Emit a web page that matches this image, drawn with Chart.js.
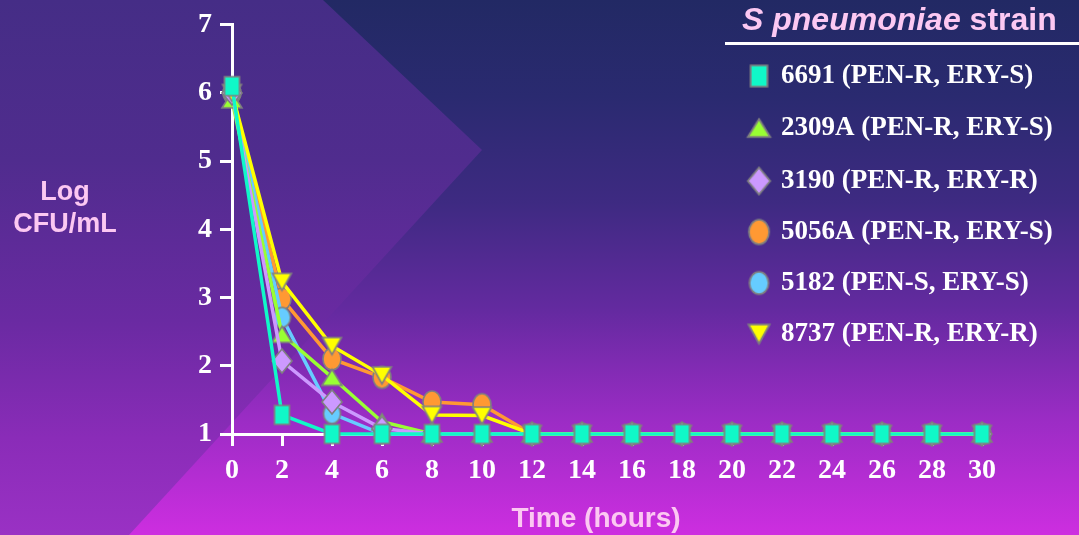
<!DOCTYPE html>
<html>
<head>
<meta charset="utf-8">
<script src="https://cdn.jsdelivr.net/npm/chart.js@4.4.1/dist/chart.umd.min.js"></script>
<style>
  html, body { margin:0; padding:0; width:1079px; height:535px; overflow:hidden; }
  body { position:relative; background: linear-gradient(to bottom, #222964 0%, #2a2a70 18%, #3e2a82 38%, #642aa0 58%, #9a2cc4 78%, #cd2ee0 100%); }
  #chev { position:absolute; left:0; top:0; width:1079px; height:535px;
    background: linear-gradient(to bottom, #452d86 0%, #502c8e 30%, #6a2aa2 60%, #8a2cb8 82%, #9a31c4 100%);
    clip-path: polygon(0 0, 323px 0, 482px 150px, 129px 535px, 0 535px); }
  canvas { position:absolute; left:0; top:0; }
</style>
</head>
<body>
<div id="chev"></div>
<canvas id="c" width="1079" height="535"></canvas>
<script>
// ---- data ----
const hours = [0, 2, 4, 6, 8, 10, 12, 14, 16, 18, 20, 22, 24, 26, 28, 30];
const xTicks = [0, 2, 4, 6, 8, 10, 12, 14, 16, 18, 20, 22, 24, 26, 28, 30];
const yTicks = [1, 2, 3, 4, 5, 6, 7];
const strainNames = ['6691 (PEN-R, ERY-S)', '2309A (PEN-R, ERY-S)', '3190 (PEN-R, ERY-R)',
                     '5056A (PEN-R, ERY-S)', '5182 (PEN-S, ERY-S)', '8737 (PEN-R, ERY-R)'];
const s6691  = [6.1, 1.28, 1.0, 1.0, 1.0, 1.0, 1.0, 1.0, 1.0, 1.0, 1.0, 1.0, 1.0, 1.0, 1.0, 1.0];
const s2309A = [5.9, 2.46, 1.83, 1.18, 1.0, 1.0, 1.0, 1.0, 1.0, 1.0, 1.0, 1.0, 1.0, 1.0, 1.0, 1.0];
const s3190  = [6.0, 2.07, 1.47, 1.08, 1.0, 1.0, 1.0, 1.0, 1.0, 1.0, 1.0, 1.0, 1.0, 1.0, 1.0, 1.0];
const s5056A = [6.0, 2.98, 2.10, 1.83, 1.47, 1.43, 1.0, 1.0, 1.0, 1.0, 1.0, 1.0, 1.0, 1.0, 1.0, 1.0];
const s5182  = [6.0, 2.71, 1.30, 1.0, 1.0, 1.0, 1.0, 1.0, 1.0, 1.0, 1.0, 1.0, 1.0, 1.0, 1.0, 1.0];
const s8737  = [6.0, 3.23, 2.29, 1.86, 1.28, 1.27, 1.0, 1.0, 1.0, 1.0, 1.0, 1.0, 1.0, 1.0, 1.0, 1.0];
const legendTitle = ['S pneumoniae', ' strain'];
const yTitle = ['Log', 'CFU/mL'];
const xTitle = 'Time (hours)';

// ---- marker images ----
function makeMarker(shape, fill, w, h) {
  const pad = 3;
  const cv = document.createElement('canvas');
  cv.width = w + pad * 2; cv.height = h + pad * 2;
  const g = cv.getContext('2d');
  const cx = cv.width / 2, cy = cv.height / 2;
  g.beginPath();
  if (shape === 'rect') g.rect(pad, pad, w, h);
  else if (shape === 'up') { g.moveTo(cx, pad); g.lineTo(pad + w, pad + h); g.lineTo(pad, pad + h); g.closePath(); }
  else if (shape === 'down') { g.moveTo(pad, pad); g.lineTo(pad + w, pad); g.lineTo(cx, pad + h); g.closePath(); }
  else if (shape === 'diamond') { g.moveTo(cx, pad); g.lineTo(pad + w, cy); g.lineTo(cx, pad + h); g.lineTo(pad, cy); g.closePath(); }
  else if (shape === 'ellipse') { g.ellipse(cx, cy, w / 2, h / 2, 0, 0, Math.PI * 2); }
  g.fillStyle = fill; g.fill();
  g.lineWidth = 1.6; g.strokeStyle = '#7f7f80'; g.stroke();
  return cv;
}
const colors = ['#10f8c8', '#99ff33', '#cc99ff', '#ff9933', '#66ccff', '#ffff00'];
const markers = [
  makeMarker('rect', colors[0], 15, 19),
  makeMarker('up', colors[1], 20, 16),
  makeMarker('diamond', colors[2], 20, 24),
  makeMarker('ellipse', colors[3], 18, 22),
  makeMarker('ellipse', colors[4], 17, 20),
  makeMarker('down', colors[5], 19, 17)
];
const series = [s6691, s2309A, s3190, s5056A, s5182, s8737];
const drawOrder = [0, 3, 2, 5, 4, 1];

const datasets = series.map((vals, i) => ({
  label: strainNames[i],
  data: hours.map((h, k) => ({x: h, y: vals[k]})),
  borderColor: colors[i],
  backgroundColor: colors[i],
  borderWidth: 3.5,
  pointStyle: markers[i],
  pointRadius: 12,
  pointHoverRadius: 12,
  tension: 0,
  clip: false,
  order: drawOrder[i]
}));

const SANS = "'Liberation Sans', Arial, sans-serif";
const SERIF = "'Liberation Serif', 'Times New Roman', serif";
const PINK = '#fcc8f2';

const deco = {
  id: 'deco',
  afterDraw(chart) {
    const ctx = chart.ctx;
    ctx.save();
    // y axis label
    ctx.fillStyle = PINK;
    ctx.font = 'bold 27px ' + SANS;
    ctx.textAlign = 'center'; ctx.textBaseline = 'middle';
    ctx.fillText(yTitle[0], 65, 193);
    ctx.fillText(yTitle[1], 65, 225);
    // x axis title
    ctx.font = 'bold 28px ' + SANS;
    ctx.fillText(xTitle, 596, 519);
    // legend title
    ctx.textAlign = 'left'; ctx.textBaseline = 'alphabetic';
    ctx.font = 'italic bold 32px ' + SANS;
    ctx.fillText(legendTitle[0], 742, 30);
    const w1 = ctx.measureText(legendTitle[0]).width;
    ctx.font = 'bold 32px ' + SANS;
    ctx.fillText(legendTitle[1], 742 + w1, 30);
    // underline
    ctx.fillStyle = '#ffffff';
    ctx.fillRect(725, 42, 354, 3);
    // legend items
    const rows = [75, 127, 180, 231, 282, 333];
    ctx.font = 'bold 27px ' + SERIF;
    ctx.textBaseline = 'middle';
    chart.data.datasets.forEach((ds, i) => {
      const img = ds.pointStyle;
      const sc = 1.12;
      const w = img.width * sc, h = img.height * sc;
      ctx.drawImage(img, 759 - w / 2, rows[i] + 1 - h / 2, w, h);
      ctx.fillStyle = '#ffffff';
      ctx.fillText(ds.label, 781, rows[i] + 1);
    });
    ctx.restore();
  }
};

new Chart(document.getElementById('c'), {
  type: 'line',
  data: { datasets },
  options: {
    responsive: false,
    animation: false,
    events: [],
    layout: { padding: { left: 0, right: 97, top: 20, bottom: 0 } },
    plugins: { legend: { display: false }, tooltip: { enabled: false } },
    scales: {
      x: {
        type: 'linear', min: 0, max: 30,
        afterFit(s) { s.height = 101; },
        afterBuildTicks(s) { s.ticks = xTicks.map(v => ({value: v})); },
        border: { color: '#ffffff', width: 3 },
        grid: { drawOnChartArea: false, drawTicks: true, tickLength: 12, color: '#ffffff', lineWidth: 3 },
        ticks: { color: '#ffffff', font: { family: SERIF, size: 28, weight: 'bold' }, padding: 8, maxRotation: 0, autoSkip: false },
        title: { display: false }
      },
      y: {
        type: 'linear', min: 1, max: 7,
        afterFit(s) { s.width = 232; },
        afterBuildTicks(s) { s.ticks = yTicks.map(v => ({value: v})); },
        border: { color: '#ffffff', width: 3 },
        grid: { drawOnChartArea: false, drawTicks: true, tickLength: 12, color: '#ffffff', lineWidth: 3 },
        ticks: { color: '#ffffff', font: { family: SERIF, size: 28, weight: 'bold' }, padding: 8 }
      }
    }
  },
  plugins: [deco]
});
</script>
</body>
</html>
